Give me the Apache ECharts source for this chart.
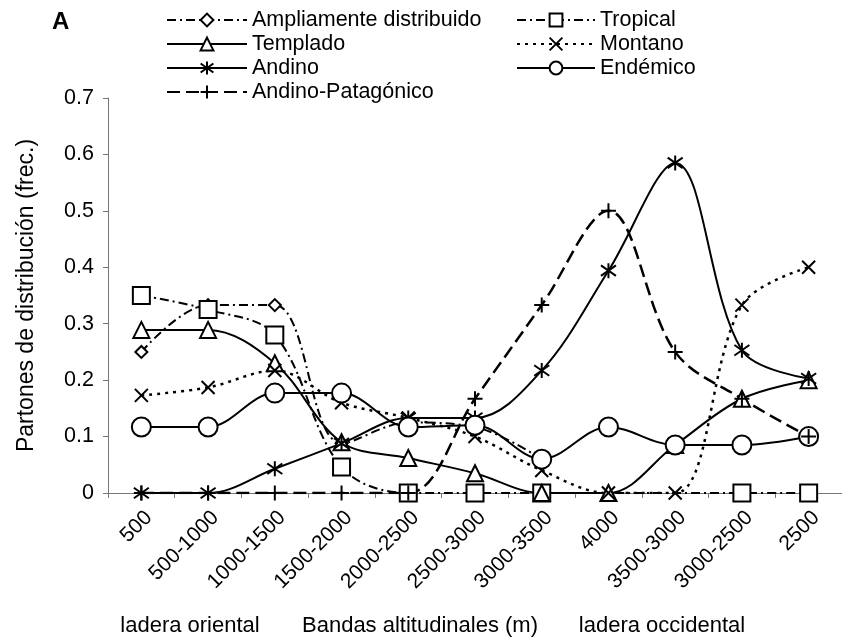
<!DOCTYPE html>
<html>
<head>
<meta charset="utf-8">
<script src="https://cdn.jsdelivr.net/npm/echarts@6/dist/echarts.min.js"></script>
<style>
  html, body { margin: 0; padding: 0; background: #fff; }
  #chart { width: 842px; height: 641px; }
</style>
</head>
<body>
<div id="chart"></div>
<script>
// Altitudinal bands, east slope up to the crest and down the west slope
const bandas = ['500', '500-1000', '1000-1500', '1500-2000', '2000-2500', '2500-3000',
                '3000-3500', '4000', '3500-3000', '3000-2500', '2500'];

// Frequency of each distribution pattern per band
const ampliamente      = [0.25, 0.333, 0.333, 0.088, 0.125, 0.117, 0.06, null, null, null, null];
const tropical         = [0.35, 0.325, 0.28, 0.046, 0, 0, 0, null, null, 0, 0];
const templado         = [0.289, 0.289, 0.23, 0.09, 0.062, 0.035, 0, 0, 0.085, 0.167, 0.2];
const montano          = [0.173, 0.187, 0.217, 0.16, 0.133, 0.1, 0.04, 0, 0, 0.333, 0.4];
const andino           = [0, 0, 0.043, 0.088, 0.133, 0.133, 0.217, 0.394, 0.585, 0.253, 0.203];
const endemico         = [0.117, 0.117, 0.177, 0.177, 0.117, 0.12, 0.06, 0.117, 0.085, 0.085, 0.1];
const andinoPatagonico = [0, 0, 0, 0, 0, 0.167, 0.333, 0.5, 0.25, 0.167, 0.1];

const yTicks = { min: 0, max: 0.7, interval: 0.1 };

const FONT = 'Liberation Sans, Arial, sans-serif';
const INK = '#000';

const SYM_X = 'path://M0,0L10,10M10,0L0,10';
const SYM_PLUS = 'path://M5,0L5,10M0,5L10,5';
const SYM_AST = 'path://M5,0L5,10M0,1.5L10,8.5M10,1.5L0,8.5';

function serie(name, data, symbol, size, dash, width) {
  return {
    name, type: 'line', data,
    smooth: 0.35,
    connectNulls: true,
    symbol, symbolSize: size,
    showAllSymbol: true,
    lineStyle: { color: INK, width: width || 2, type: dash },
    itemStyle: { color: INK, borderColor: INK, borderWidth: 2 },
    emphasis: { disabled: true },
    animation: false
  };
}

const series = [
  serie('Ampliamente distribuido', ampliamente, 'emptyDiamond', 12, [9, 4, 2, 4]),
  serie('Tropical', tropical, 'emptyRect', 17, [9, 4, 2, 4]),
  serie('Templado', templado, 'emptyTriangle', 16, 'solid'),
  serie('Montano', montano, SYM_X, 13, [3, 5], 2.5),
  serie('Andino', andino, SYM_AST, 15, 'solid'),
  serie('Endémico', endemico, 'emptyCircle', 19, 'solid'),
  serie('Andino-Patagónico', andinoPatagonico, SYM_PLUS, 15, [13, 6], 2.5)
];

const legendBase = {
  orient: 'vertical',
  padding: 0,
  itemWidth: 80,
  itemHeight: 16,
  itemGap: 2,
  selectedMode: false,
  textStyle: { fontFamily: FONT, fontSize: 21.5, color: INK, lineHeight: 21 }
};

const chart = echarts.init(document.getElementById('chart'), null, { renderer: 'canvas' });
chart.setOption({
  backgroundColor: '#fff',
  animation: false,
  grid: { left: 108, top: 98, width: 737, height: 395, containLabel: false },
  legend: [
    Object.assign({}, legendBase, {
      left: 166, top: 9,
      data: ['Ampliamente distribuido', 'Templado', 'Andino', 'Andino-Patagónico']
    }),
    Object.assign({}, legendBase, {
      left: 516, top: 9, itemWidth: 78,
      data: ['Tropical', 'Montano', 'Endémico']
    })
  ],
  xAxis: {
    type: 'category',
    data: bandas,
    boundaryGap: true,
    axisLine: { lineStyle: { color: '#777', width: 1 } },
    axisTick: { show: true, length: 5, lineStyle: { color: '#777' } },
    axisLabel: { rotate: 45, margin: 14, verticalAlign: 'top', color: INK,
                 fontFamily: FONT, fontSize: 21, interval: 0 },
    splitLine: { show: false }
  },
  yAxis: {
    type: 'value',
    min: yTicks.min, max: yTicks.max, interval: yTicks.interval,
    name: 'Partones de distribución (frec.)',
    nameLocation: 'middle',
    nameGap: 70,
    nameTextStyle: { fontFamily: FONT, fontSize: 23, color: INK },
    axisLine: { show: true, lineStyle: { color: '#777', width: 1 } },
    axisTick: { show: true, length: 5, lineStyle: { color: '#777' } },
    axisLabel: { color: INK, fontFamily: FONT, fontSize: 21.5, margin: 14,
                 formatter: v => (v === 0 ? '0' : v.toFixed(1)) },
    splitLine: { show: false }
  },
  graphic: [
    { type: 'text', left: 52, top: 10,
      style: { text: 'A', font: 'bold 24px ' + FONT, fill: INK } },
    { type: 'text', x: 190, y: 626,
      style: { text: 'ladera oriental', font: '22px ' + FONT, fill: INK, align: 'center', verticalAlign: 'middle' } },
    { type: 'text', x: 420, y: 626,
      style: { text: 'Bandas altitudinales (m)', font: '22px ' + FONT, fill: INK, align: 'center', verticalAlign: 'middle' } },
    { type: 'text', x: 662, y: 626,
      style: { text: 'ladera occidental', font: '22px ' + FONT, fill: INK, align: 'center', verticalAlign: 'middle' } }
  ],
  series
});
</script>
</body>
</html>
